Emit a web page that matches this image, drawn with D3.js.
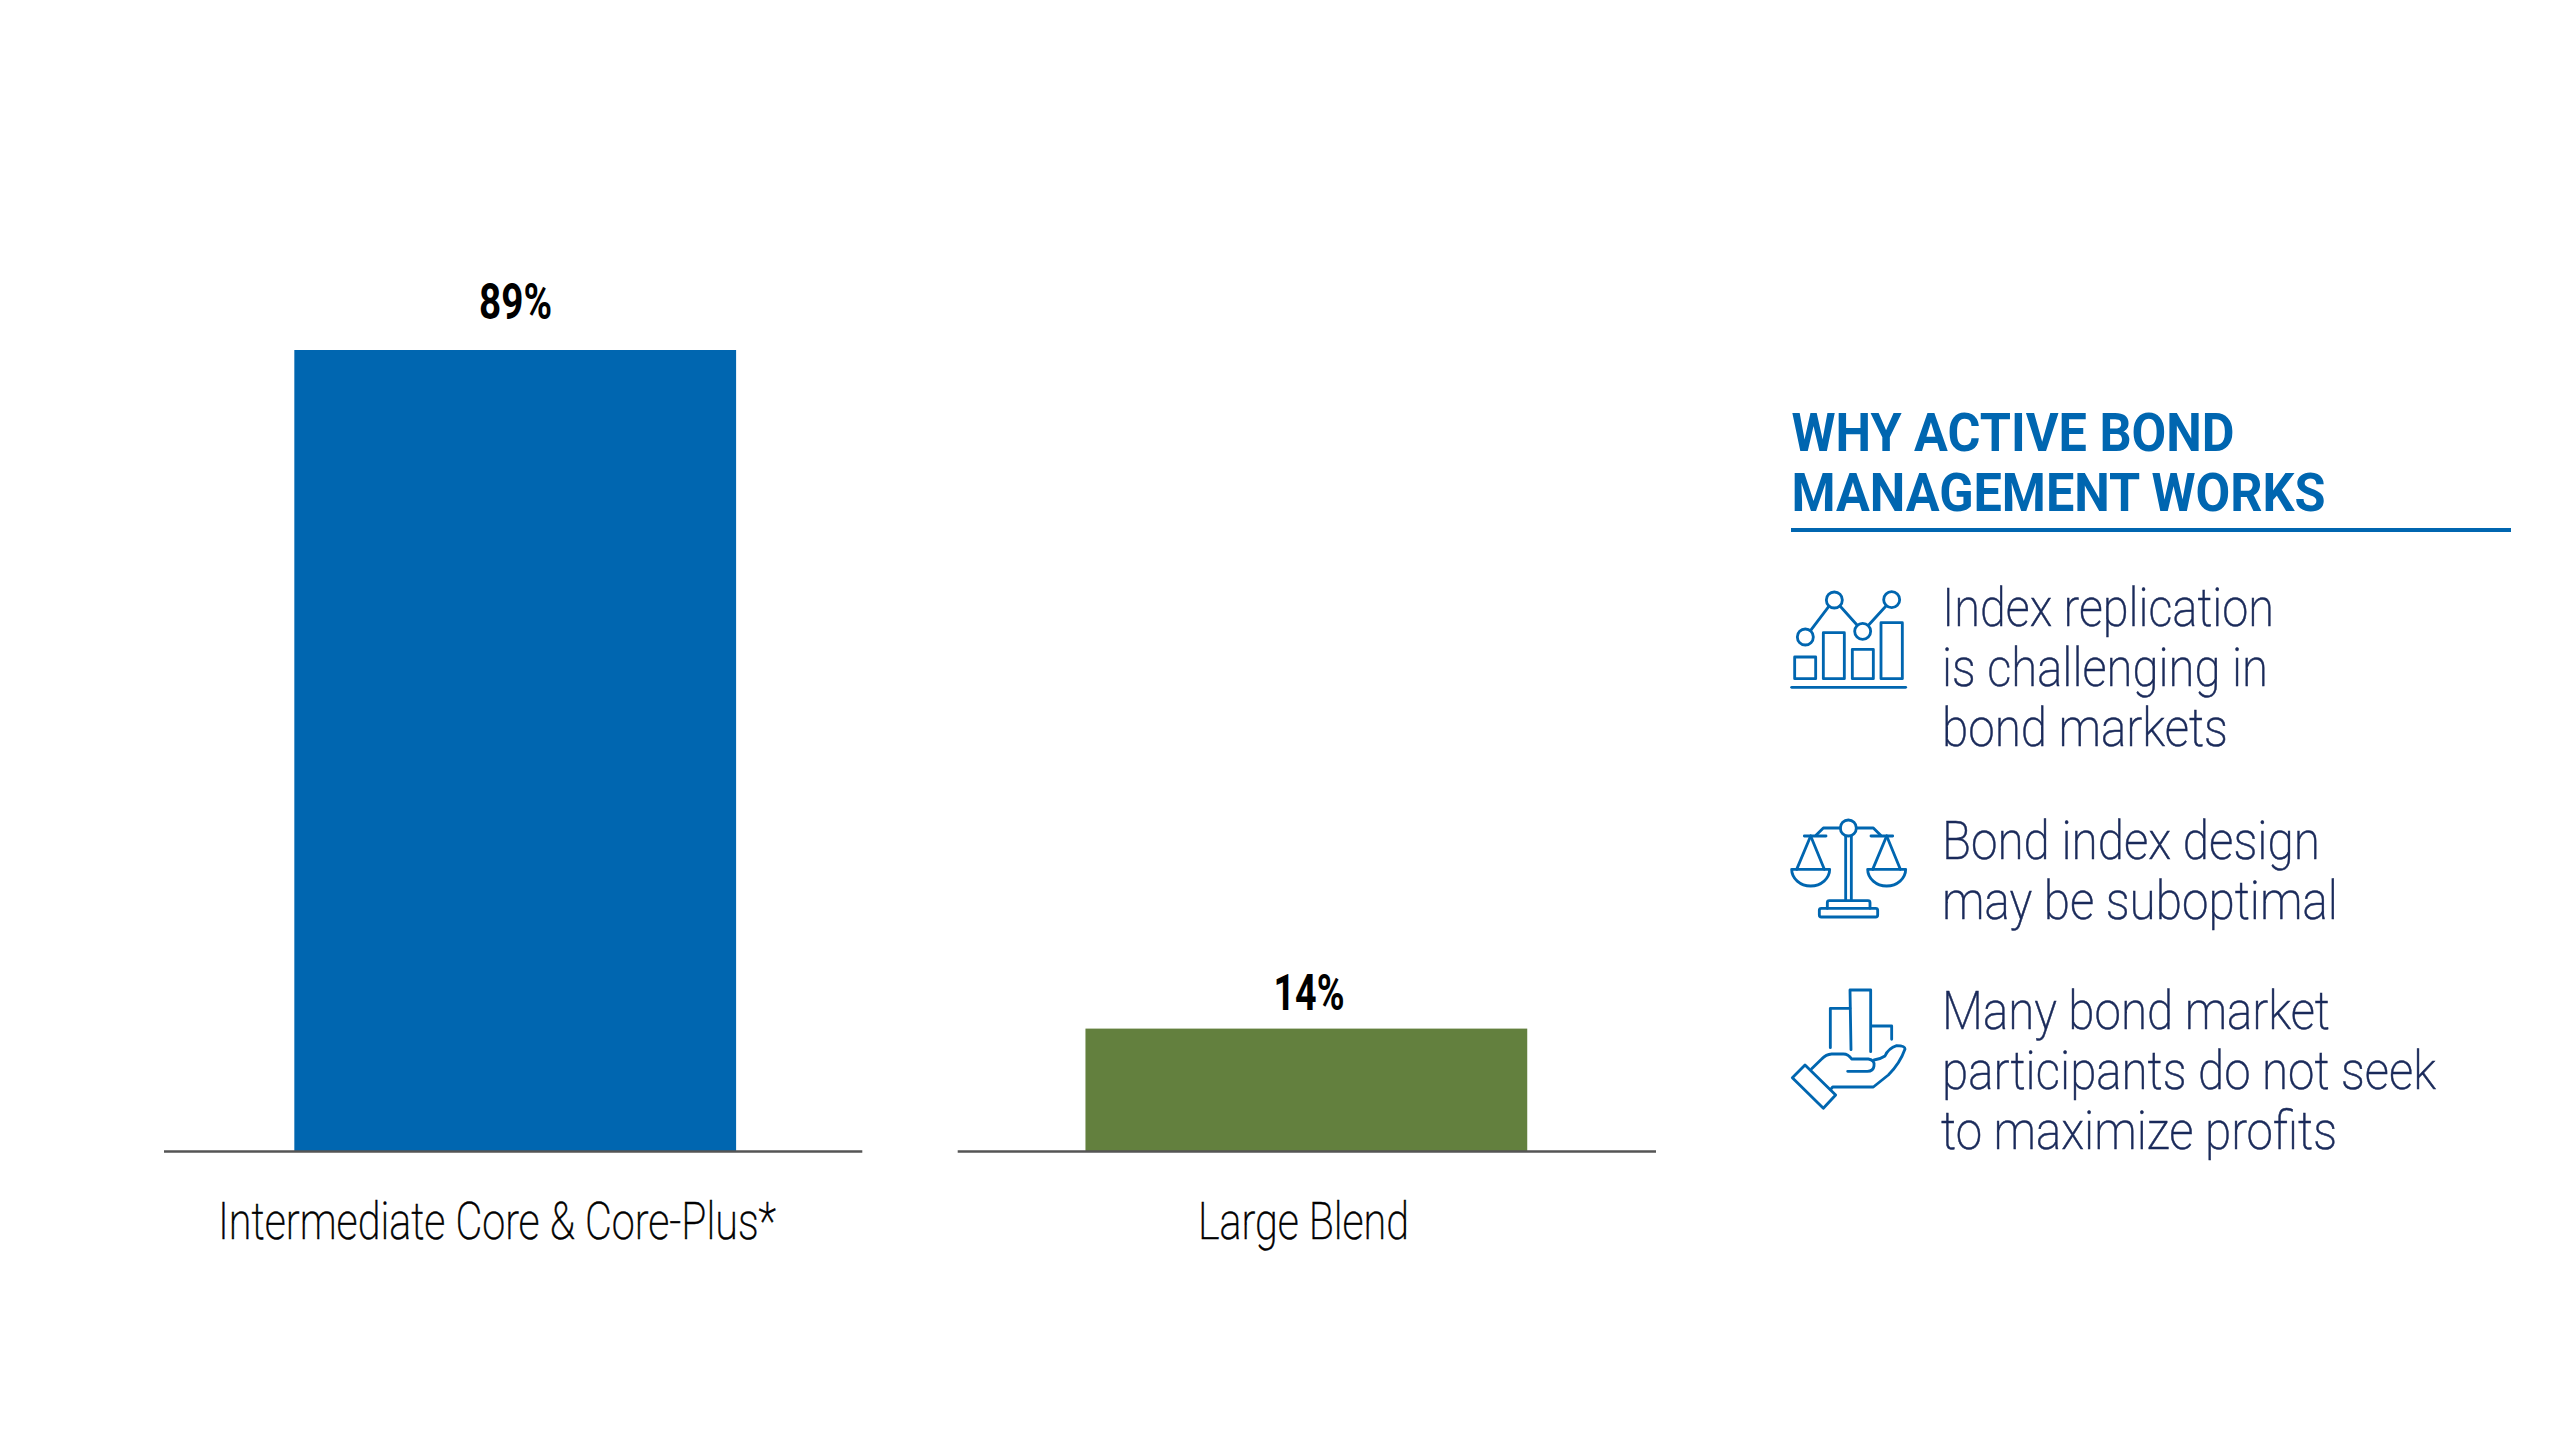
<!DOCTYPE html>
<html>
<head>
<meta charset="utf-8">
<title>Why active bond management works</title>
<script src="https://cdn.jsdelivr.net/npm/d3@7"></script>
<style>
  html, body { margin: 0; padding: 0; background: #fff; }
  svg { display: block; }
  text { font-family: Roboto, sans-serif; }
</style>
</head>
<body>
<svg id="chart" width="2560" height="1440"></svg>
<script>
// values
const categories = ['Intermediate Core & Core-Plus*', 'Large Blend'];
const values = [89, 13.6];      // drawn height, the labels are rounded
const valueLabels = ['89%', '14%'];
const colors = ['#0066b0', '#63803e'];
const panelTitle = ['WHY ACTIVE BOND', 'MANAGEMENT WORKS'];
const reasons = [
  ['Index replication', 'is challenging in', 'bond markets'],
  ['Bond index design', 'may be suboptimal'],
  ['Many bond market', 'participants do not seek', 'to maximize profits']
];

const blue = '#0066b0', navy = '#1a2a5a';
const baseY = 1151, topY = 350;

const svg = d3.select('#chart');

const xPanel = d3.scaleBand().domain(categories).range([163.5, 1655.5]).paddingInner(0.1202);
const y = d3.scaleLinear().domain([0, 89]).range([baseY, topY]);

// each category sits on its own little baseline
const labelX = [497, 1303.5], labelW = [558, 211];
const valueX = [515.5, 1309], valueW = [73, 71];
const barAlign = [0.51, 0.5];

categories.forEach((cat, i) => {
  const x = d3.scaleBand().domain([cat]).range([0, xPanel.bandwidth()]).padding(0.225).align(barAlign[i]);
  const g = svg.append('g').attr('transform', `translate(${xPanel(cat)},0)`);

  g.append('rect')
    .attr('x', x(cat))
    .attr('y', y(values[i]))
    .attr('width', x.bandwidth())
    .attr('height', y(0) - y(values[i]))
    .attr('fill', colors[i]);

  const axis = g.append('g')
    .attr('transform', `translate(0,${baseY})`)
    .call(d3.axisBottom(x).tickSize(0));
  axis.select('.domain').attr('stroke', '#555').attr('stroke-width', 2.5);
  axis.selectAll('.tick text')
    .attr('x', labelX[i] - xPanel(cat) - x(cat) - x.bandwidth() / 2)
    .attr('y', 88)
    .attr('dy', 0)
    .attr('font-size', 52)
    .attr('font-family', 'Roboto')
    .attr('font-weight', 200)
    .attr('fill', '#000')
    .attr('stroke', '#000')
    .attr('stroke-width', 0.5)
    .attr('textLength', labelW[i])
    .attr('lengthAdjust', 'spacingAndGlyphs');

  g.append('text')
    .attr('x', valueX[i] - xPanel(cat))
    .attr('y', y(values[i]) - 31 + (i ? 12 : 0))
    .attr('text-anchor', 'middle')
    .attr('font-size', 50)
    .attr('font-weight', 700)
    .attr('fill', '#000')
    .attr('textLength', valueW[i])
    .attr('lengthAdjust', 'spacingAndGlyphs')
    .text(valueLabels[i]);
});

// right hand panel
const titleY = [451, 510.5], titleW = [443, 534];
svg.selectAll('text.title').data(panelTitle).join('text')
  .attr('class', 'title')
  .attr('x', 1791.5)
  .attr('y', (d, i) => titleY[i])
  .attr('font-size', 53)
  .attr('font-weight', 700)
  .attr('fill', blue)
  .attr('textLength', (d, i) => titleW[i])
  .attr('lengthAdjust', 'spacingAndGlyphs')
  .text(d => d);

svg.append('line')
  .attr('x1', 1791).attr('x2', 2511)
  .attr('y1', 530).attr('y2', 530)
  .attr('stroke', blue).attr('stroke-width', 4);

const reasonY = [[625.5, 685.5, 745.5], [858.5, 918.5], [1028.5, 1088.5, 1148.5]];
const reasonW = [[332, 326, 286], [378, 396], [388, 494, 396]];

reasons.forEach((lines, r) => {
  svg.selectAll(`text.reason${r}`).data(lines).join('text')
    .attr('class', `reason${r}`)
    .attr('x', (d, i) => r === 2 && i === 2 ? 1941 : 1942)
    .attr('y', (d, i) => reasonY[r][i])
    .attr('font-size', 53)
    .attr('font-weight', 200)
    .attr('fill', navy)
    .attr('stroke', navy)
    .attr('stroke-width', 0.5)
    .attr('textLength', (d, i) => reasonW[r][i])
    .attr('lengthAdjust', 'spacingAndGlyphs')
    .text(d => d);
});

// icons, traced at 3x
const iconPaths = [
  { at: [1790, 570], d: [
    'M14,261H77V326H14Z', 'M100,188H163V326H100Z', 'M187,238H250V326H187Z', 'M273,158H337V326H273Z',
    'M5,352H347',
    'M62,181L116,110', 'M150,108L201,165', 'M236,165L288,108'
  ], circles: [[46, 201], [133, 90], [218, 184], [305, 89]] },
  { at: [1790, 810], d: [
    'M151,54H100L78,76', 'M199,54H250L272,76',
    'M43,78H108', 'M243,78H308',
    'M62,78L20,178', 'M62,78L103,178', 'M290,78L248,178', 'M290,78L331,178',
    'M5,178H119A57,50 0 0 1 5,178Z', 'M233,178H347A57,50 0 0 1 233,178Z',
    'M167,78V270', 'M184,78V270',
    'M112,295V278Q112,272 118,272H234Q240,272 240,278V295',
    'M94,295H257Q263,295 263,301V315Q263,321 257,321H94Q88,321 88,315V301Q88,295 94,295Z'
  ], circles: [[175, 54]] },
  { at: [1790, 980], d: [
    'M121,203V85H180', 'M183,209L180,30H242V215', 'M245,138H305V178',
    'M45,255L137,345L100,385L7,293Z',
    'M65,266L95,237Q108,223 125,222H160Q175,222 185,237H235Q255,240 252,258Q250,274 232,274H173',
    'M252,240Q270,238 285,228Q295,205 320,197Q345,197 345,207Q330,250 295,285L250,321H128L122,328'
  ], circles: [] }
];

iconPaths.forEach(icon => {
  const g = svg.append('g')
    .attr('transform', `translate(${icon.at[0]},${icon.at[1]}) scale(${1 / 3})`)
    .attr('fill', 'none')
    .attr('stroke', blue)
    .attr('stroke-width', 8.5)
    .attr('stroke-linejoin', 'round')
    .attr('stroke-linecap', 'round');
  g.selectAll('path').data(icon.d).join('path').attr('d', d => d);
  g.selectAll('circle').data(icon.circles).join('circle')
    .attr('cx', d => d[0]).attr('cy', d => d[1]).attr('r', 24);
});
</script>
</body>
</html>
